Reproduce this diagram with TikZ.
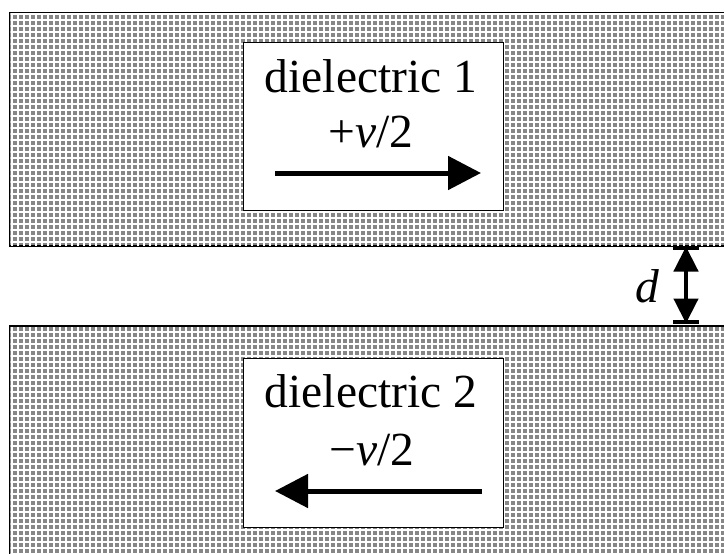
\documentclass[tikz,border=0pt]{standalone}
\usepackage{fontspec}
\setmainfont{Liberation Serif}
\usetikzlibrary{arrows.meta,patterns.meta}
\definecolor{slabgray}{RGB}{135,135,135}
\tikzset{
  slab/.style={fill=slabgray, draw=black, line width=1.2pt},
  slabtex/.style={pattern={Lines[distance=6pt,angle=0,line width=1.4pt]}, pattern color=white},
  slabtexv/.style={pattern={Lines[distance=6pt,angle=90,line width=1.4pt]}, pattern color=white},
  whitebox/.style={fill=white, draw=black, line width=0.9pt, minimum width=260pt, minimum height=168pt, inner sep=0pt},
  lbl/.style={font=\fontsize{47.5}{47.5}\selectfont, inner sep=0pt, anchor=base},
  flow/.style={line width=5pt, -{Triangle[length=33pt,width=33pt]}},
  dim/.style={line width=4.5pt, {Triangle[length=25pt,width=24pt]}-{Triangle[length=25pt,width=24pt]}},
  bar/.style={line width=3.5pt}
}
\begin{document}
\begin{tikzpicture}[x=1pt,y=-1pt]
\useasboundingbox (0,0) rectangle (724,554);
\clip (0,0) rectangle (724,554);
% slabs
\path[slab] (9.5,12.5) rectangle (760,246);
\path[slabtex] (10.5,13.5) rectangle (760,245);
\path[slabtexv] (10.5,13.5) rectangle (760,245);
\path[slab] (9.5,326) rectangle (760,580);
\path[slabtex] (10.5,327) rectangle (760,580);
\path[slabtexv] (10.5,327) rectangle (760,580);
% white boxes
\node[whitebox] (box1) at (373,126) {};
\node[whitebox, minimum height=169pt] (box2) at (373,442.5) {};
% labels
\node[lbl] (t1) at (371,92) {dielectric 1};
\node[lbl] (v1) at (371,147) {+\textit{v}/2};
\node[lbl] (t2) at (371,407) {dielectric 2};
\node[lbl] (v2) at (372,465) {\char"2212\textit{v}/2};
% motion arrows
\coordinate (a1s) at (275,173);
\coordinate (a1e) at (481,173);
\draw[flow] (a1s) -- (a1e);
\coordinate (a2s) at (482,491);
\coordinate (a2e) at (275,491);
\draw[flow] (a2s) -- (a2e);
% gap dimension
\coordinate (dtop) at (686,248);
\coordinate (dbot) at (686,322);
\draw[bar] ([xshift=-13pt]dtop) -- ([xshift=13pt]dtop);
\draw[bar] ([xshift=-13pt]dbot) -- ([xshift=13pt]dbot);
\draw[dim] ([yshift=1.5pt]dtop) -- ([yshift=-1.5pt]dbot);
\node[lbl] (dl) at (647,302) {\textit{d}};
\end{tikzpicture}
\end{document}
